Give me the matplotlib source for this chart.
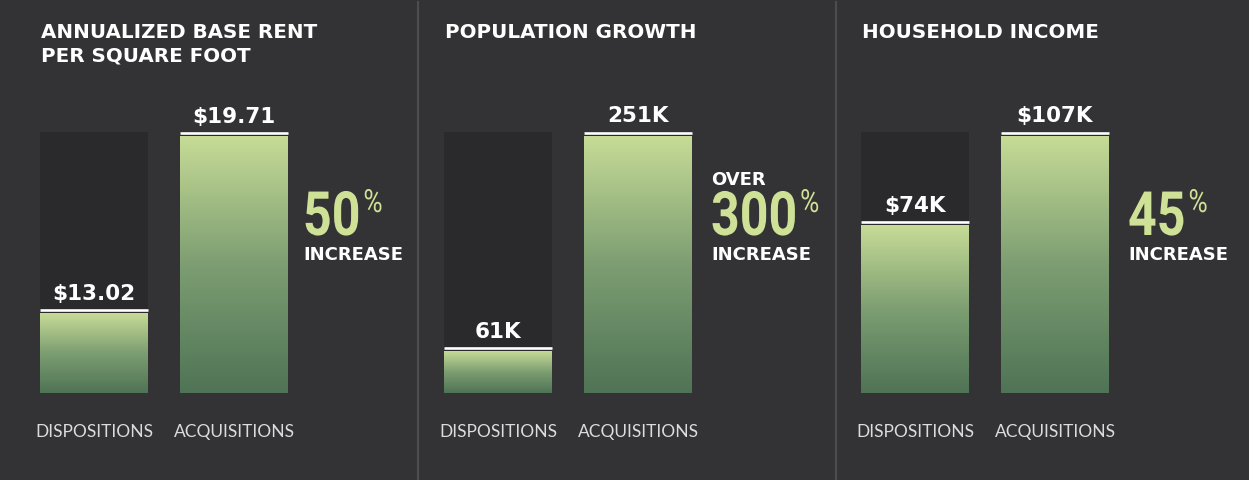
import numpy as np
import matplotlib
matplotlib.use("Agg")
import matplotlib.pyplot as plt
from matplotlib.lines import Line2D
from matplotlib.colors import LinearSegmentedColormap
from matplotlib.transforms import offset_copy, Affine2D
from matplotlib.patheffects import AbstractPathEffect

# data
panel_titles = ["ANNUALIZED BASE RENT\nPER SQUARE FOOT", "POPULATION GROWTH", "HOUSEHOLD INCOME"]
categories = ["DISPOSITIONS", "ACQUISITIONS"]
dispositions = [13.02, 61, 74]
acquisitions = [19.71, 251, 107]
disp_labels = ["$13.02", "61K", "$74K"]
acq_labels = ["$19.71", "251K", "$107K"]
increase_pct = ["50", "300", "45"]
increase_prefix = ["", "OVER", ""]
axis_floor = [10, 24, 12]

# style
BG = "#333335"
COL = "#2a2a2c"
GREEN = "#cfe196"
W, H = 1249, 481
grad = LinearSegmentedColormap.from_list("g", ["#4f7355", "#7d9e72", "#c6db96"])

BOLD = ["DejaVu Sans"]
NUMF = ["Roboto", "DejaVu Sans"]
LIGHT = ["Lato", "DejaVu Sans"]
SQ = 0.82  # horizontal squeeze for the big condensed numbers


class Squeeze(AbstractPathEffect):
    # draws the text glyphs narrower (condensed look), text stays a Text artist
    def __init__(self, sx):
        super().__init__()
        self.sx = sx

    def draw_path(self, renderer, gc, tpath, affine, rgbFace=None):
        renderer.draw_path(gc, tpath, Affine2D().scale(self.sx, 1) + affine, rgbFace)


fig = plt.figure(figsize=(W / 100, H / 100), dpi=100, facecolor=BG)


def px(x, y):
    # pixel (from top-left) -> figure fraction
    return x / W, 1 - y / H


bw = 108 / 140
bar_left = [40, 444, 861]
title_x = [41, 445, 862]
inc_x = [303, 711, 1128]
bar_top, bar_bot = 137, 394

for i in range(3):
    axw = 140 + bw * 140
    ax = fig.add_axes([bar_left[i] / W, 1 - bar_bot / H, axw / W, (bar_bot - bar_top) / H])
    ax.set_facecolor("none")
    ax.axis("off")
    lo, hi = axis_floor[i], acquisitions[i]
    vals = [dispositions[i], acquisitions[i]]

    # dark column behind each bar (reaches up to the white cap line)
    col_top = hi + (hi - lo) * 4 / (bar_bot - bar_top)
    ax.bar([0, 1], col_top - lo, bottom=lo, width=bw, color=COL, zorder=1, clip_on=False)
    bars = ax.bar([0, 1], [v - lo for v in vals], bottom=lo, width=bw, color="none", zorder=2)
    g = np.linspace(0, 1, 256).reshape(-1, 1)
    for b, v in zip(bars, vals):
        im = ax.imshow(g, cmap=grad, origin="lower", aspect="auto", zorder=2,
                       extent=[b.get_x(), b.get_x() + bw, lo, v])
        im.set_clip_path(b)
    line_tr = offset_copy(ax.transData, fig=fig, x=0, y=3.0, units="dots")
    for j, v in enumerate(vals):
        ax.plot([j - bw / 2, j + bw / 2], [v, v], color="white", lw=1.9,
                solid_capstyle="butt", transform=line_tr, clip_on=False, zorder=4)
    for j, (v, lab) in enumerate(zip(vals, [disp_labels[i], acq_labels[i]])):
        ax.annotate(lab, xy=(j, v), xytext=(0, 14.5), textcoords="offset pixels",
                    ha="center", va="baseline", color="white", fontsize=15.5,
                    family=BOLD, fontweight="bold", annotation_clip=False, zorder=5)
    ax.set_xlim(-bw / 2, 1 + bw / 2)
    ax.set_ylim(lo, hi)

    for j, cat in enumerate(categories):
        cx = bar_left[i] + 140 * j + bw * 70
        fig.text(*px(cx, 437), cat, ha="center", va="baseline", color="#dcdcdc",
                 fontsize=12.5, family=LIGHT)

    # title
    for k, line in enumerate(panel_titles[i].split("\n")):
        fig.text(*px(title_x[i], 38 + 24 * k), line, ha="left", va="baseline",
                 color="white", fontsize=14.3, family=BOLD, fontweight="bold")

    # percentage callout
    num = fig.text(*px(inc_x[i], 236), increase_pct[i], ha="left", va="baseline",
                   color=GREEN, fontsize=44, family=NUMF, fontweight="bold",
                   path_effects=[Squeeze(SQ)])
    fig.text(*px(inc_x[i], 260), "INCREASE", ha="left", va="baseline",
             color="white", fontsize=13, family=BOLD, fontweight="bold")
    if increase_prefix[i]:
        fig.text(*px(inc_x[i], 185), increase_prefix[i], ha="left", va="baseline",
                 color="white", fontsize=13, family=BOLD, fontweight="bold")
    plt.annotate("%", xy=(SQ, 1), xycoords=num, xytext=(3, 0), textcoords="offset pixels",
                 ha="left", va="top", color=GREEN, fontsize=23, family=NUMF,
                 path_effects=[Squeeze(SQ)])

# dividers
for xd in [418, 836]:
    fig.add_artist(Line2D([xd / W, xd / W], [0, 1 - 3 / H], color="#4d4d4f", lw=1.5,
                          transform=fig.transFigure))

fig.savefig("out.png", dpi=100, facecolor=BG)
